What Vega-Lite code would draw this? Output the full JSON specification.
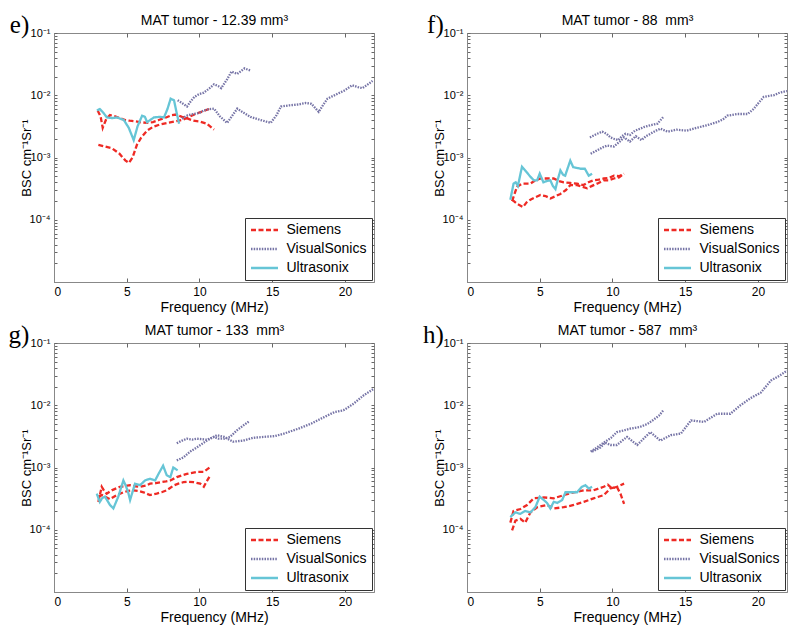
{
  "$schema": "https://vega.github.io/schema/vega-lite/v6.json",
  "padding": {"left": 7, "top": 12, "right": 5, "bottom": 5},
  "background": "white",
  "config": {
    "font": "Liberation Sans",
    "view": {"stroke": "#888888", "strokeWidth": 1},
    "axis": {
      "grid": false, "domainColor": "#888888", "tickColor": "#666666", "tickSize": -4,
      "labelColor": "#000000", "titleColor": "#000000", "titleFontWeight": "normal"
    },
    "legend": {
      "orient": "bottom-right", "offset": 2, "strokeColor": "#333333", "fillColor": "#ffffff",
      "padding": 5, "labelFontSize": 14, "labelColor": "#000000", "symbolType": "M-3,0H3", "symbolSize": 81,
      "symbolStrokeWidth": 2.5, "symbolOffset": 7.5, "labelOffset": 15, "rowPadding": 5, "title": null, "cornerRadius": 0
    },
    "line": {"strokeWidth": 2.3, "clip": true}
  },
  "datasets": {
    "bsc": [
      {"panel":"e","device":"Siemens","run":"S1","freq":3.0,"bsc":0.0057},
      {"panel":"e","device":"Siemens","run":"S1","freq":3.2,"bsc":0.0046},
      {"panel":"e","device":"Siemens","run":"S1","freq":3.35,"bsc":0.0030},
      {"panel":"e","device":"Siemens","run":"S1","freq":3.6,"bsc":0.0042},
      {"panel":"e","device":"Siemens","run":"S1","freq":3.85,"bsc":0.0048},
      {"panel":"e","device":"Siemens","run":"S1","freq":4.2,"bsc":0.0046},
      {"panel":"e","device":"Siemens","run":"S1","freq":4.5,"bsc":0.0043},
      {"panel":"e","device":"Siemens","run":"S1","freq":4.9,"bsc":0.0040},
      {"panel":"e","device":"Siemens","run":"S1","freq":5.2,"bsc":0.0039},
      {"panel":"e","device":"Siemens","run":"S1","freq":5.6,"bsc":0.0038},
      {"panel":"e","device":"Siemens","run":"S1","freq":5.9,"bsc":0.0037},
      {"panel":"e","device":"Siemens","run":"S1","freq":6.4,"bsc":0.0036},
      {"panel":"e","device":"Siemens","run":"S1","freq":6.8,"bsc":0.0037},
      {"panel":"e","device":"Siemens","run":"S1","freq":7.2,"bsc":0.0040},
      {"panel":"e","device":"Siemens","run":"S1","freq":7.7,"bsc":0.0044},
      {"panel":"e","device":"Siemens","run":"S1","freq":8.1,"bsc":0.0048},
      {"panel":"e","device":"Siemens","run":"S1","freq":8.4,"bsc":0.0049},
      {"panel":"e","device":"Siemens","run":"S1","freq":8.8,"bsc":0.0045},
      {"panel":"e","device":"Siemens","run":"S1","freq":9.2,"bsc":0.0042},
      {"panel":"e","device":"Siemens","run":"S1","freq":9.6,"bsc":0.0039},
      {"panel":"e","device":"Siemens","run":"S1","freq":10.0,"bsc":0.0038},
      {"panel":"e","device":"Siemens","run":"S1","freq":10.5,"bsc":0.0035},
      {"panel":"e","device":"Siemens","run":"S1","freq":11.0,"bsc":0.0028},
      {"panel":"e","device":"Siemens","run":"S2","freq":3.05,"bsc":0.0016},
      {"panel":"e","device":"Siemens","run":"S2","freq":3.5,"bsc":0.0015},
      {"panel":"e","device":"Siemens","run":"S2","freq":4.0,"bsc":0.0014},
      {"panel":"e","device":"Siemens","run":"S2","freq":4.5,"bsc":0.00115},
      {"panel":"e","device":"Siemens","run":"S2","freq":4.9,"bsc":0.0009},
      {"panel":"e","device":"Siemens","run":"S2","freq":5.15,"bsc":0.00082},
      {"panel":"e","device":"Siemens","run":"S2","freq":5.4,"bsc":0.0010},
      {"panel":"e","device":"Siemens","run":"S2","freq":5.7,"bsc":0.0016},
      {"panel":"e","device":"Siemens","run":"S2","freq":6.0,"bsc":0.0021},
      {"panel":"e","device":"Siemens","run":"S2","freq":6.4,"bsc":0.0027},
      {"panel":"e","device":"Siemens","run":"S2","freq":6.8,"bsc":0.0031},
      {"panel":"e","device":"Siemens","run":"S2","freq":7.3,"bsc":0.0034},
      {"panel":"e","device":"Siemens","run":"S2","freq":7.8,"bsc":0.0036},
      {"panel":"e","device":"Siemens","run":"S2","freq":8.3,"bsc":0.0038},
      {"panel":"e","device":"Siemens","run":"S2","freq":8.8,"bsc":0.0040},
      {"panel":"e","device":"Siemens","run":"S2","freq":9.3,"bsc":0.0045},
      {"panel":"e","device":"Siemens","run":"S2","freq":9.8,"bsc":0.0051},
      {"panel":"e","device":"Siemens","run":"S2","freq":10.3,"bsc":0.0056},
      {"panel":"e","device":"Siemens","run":"S2","freq":10.8,"bsc":0.0062},
      {"panel":"e","device":"Ultrasonix","run":"U1","freq":2.95,"bsc":0.0057},
      {"panel":"e","device":"Ultrasonix","run":"U1","freq":3.15,"bsc":0.0060},
      {"panel":"e","device":"Ultrasonix","run":"U1","freq":3.4,"bsc":0.0052},
      {"panel":"e","device":"Ultrasonix","run":"U1","freq":3.64,"bsc":0.0044},
      {"panel":"e","device":"Ultrasonix","run":"U1","freq":4.0,"bsc":0.0043},
      {"panel":"e","device":"Ultrasonix","run":"U1","freq":4.33,"bsc":0.0044},
      {"panel":"e","device":"Ultrasonix","run":"U1","freq":4.8,"bsc":0.0040},
      {"panel":"e","device":"Ultrasonix","run":"U1","freq":5.14,"bsc":0.0030},
      {"panel":"e","device":"Ultrasonix","run":"U1","freq":5.48,"bsc":0.0019},
      {"panel":"e","device":"Ultrasonix","run":"U1","freq":5.75,"bsc":0.0032},
      {"panel":"e","device":"Ultrasonix","run":"U1","freq":6.06,"bsc":0.0047},
      {"panel":"e","device":"Ultrasonix","run":"U1","freq":6.25,"bsc":0.0045},
      {"panel":"e","device":"Ultrasonix","run":"U1","freq":6.4,"bsc":0.0037},
      {"panel":"e","device":"Ultrasonix","run":"U1","freq":6.87,"bsc":0.0044},
      {"panel":"e","device":"Ultrasonix","run":"U1","freq":7.3,"bsc":0.0045},
      {"panel":"e","device":"Ultrasonix","run":"U1","freq":7.56,"bsc":0.0044},
      {"panel":"e","device":"Ultrasonix","run":"U1","freq":7.8,"bsc":0.0060},
      {"panel":"e","device":"Ultrasonix","run":"U1","freq":8.02,"bsc":0.0088},
      {"panel":"e","device":"Ultrasonix","run":"U1","freq":8.25,"bsc":0.0083},
      {"panel":"e","device":"Ultrasonix","run":"U1","freq":8.45,"bsc":0.0050},
      {"panel":"e","device":"Ultrasonix","run":"U1","freq":8.6,"bsc":0.0035},
      {"panel":"e","device":"VisualSonics","run":"V1","freq":8.5,"bsc":0.0083},
      {"panel":"e","device":"VisualSonics","run":"V1","freq":8.8,"bsc":0.0075},
      {"panel":"e","device":"VisualSonics","run":"V1","freq":9.15,"bsc":0.0066},
      {"panel":"e","device":"VisualSonics","run":"V1","freq":9.4,"bsc":0.0080},
      {"panel":"e","device":"VisualSonics","run":"V1","freq":9.65,"bsc":0.0094},
      {"panel":"e","device":"VisualSonics","run":"V1","freq":10.0,"bsc":0.0105},
      {"panel":"e","device":"VisualSonics","run":"V1","freq":10.3,"bsc":0.011},
      {"panel":"e","device":"VisualSonics","run":"V1","freq":10.7,"bsc":0.013},
      {"panel":"e","device":"VisualSonics","run":"V1","freq":11.0,"bsc":0.015},
      {"panel":"e","device":"VisualSonics","run":"V1","freq":11.3,"bsc":0.014},
      {"panel":"e","device":"VisualSonics","run":"V1","freq":11.5,"bsc":0.013},
      {"panel":"e","device":"VisualSonics","run":"V1","freq":11.9,"bsc":0.018},
      {"panel":"e","device":"VisualSonics","run":"V1","freq":12.2,"bsc":0.024},
      {"panel":"e","device":"VisualSonics","run":"V1","freq":12.6,"bsc":0.022},
      {"panel":"e","device":"VisualSonics","run":"V1","freq":13.1,"bsc":0.027},
      {"panel":"e","device":"VisualSonics","run":"V1","freq":13.5,"bsc":0.025},
      {"panel":"e","device":"VisualSonics","run":"V2","freq":8.8,"bsc":0.0042},
      {"panel":"e","device":"VisualSonics","run":"V2","freq":9.2,"bsc":0.0048},
      {"panel":"e","device":"VisualSonics","run":"V2","freq":9.6,"bsc":0.0050},
      {"panel":"e","device":"VisualSonics","run":"V2","freq":10.0,"bsc":0.0052},
      {"panel":"e","device":"VisualSonics","run":"V2","freq":10.3,"bsc":0.0057},
      {"panel":"e","device":"VisualSonics","run":"V2","freq":10.7,"bsc":0.0060},
      {"panel":"e","device":"VisualSonics","run":"V2","freq":11.0,"bsc":0.0061},
      {"panel":"e","device":"VisualSonics","run":"V2","freq":11.4,"bsc":0.0046},
      {"panel":"e","device":"VisualSonics","run":"V2","freq":11.9,"bsc":0.0036},
      {"panel":"e","device":"VisualSonics","run":"V2","freq":12.2,"bsc":0.0045},
      {"panel":"e","device":"VisualSonics","run":"V2","freq":12.6,"bsc":0.0061},
      {"panel":"e","device":"VisualSonics","run":"V2","freq":13.0,"bsc":0.0053},
      {"panel":"e","device":"VisualSonics","run":"V2","freq":13.5,"bsc":0.0045},
      {"panel":"e","device":"VisualSonics","run":"V2","freq":14.2,"bsc":0.0040},
      {"panel":"e","device":"VisualSonics","run":"V2","freq":14.9,"bsc":0.0036},
      {"panel":"e","device":"VisualSonics","run":"V2","freq":15.3,"bsc":0.0048},
      {"panel":"e","device":"VisualSonics","run":"V2","freq":15.6,"bsc":0.0066},
      {"panel":"e","device":"VisualSonics","run":"V2","freq":16.2,"bsc":0.0069},
      {"panel":"e","device":"VisualSonics","run":"V2","freq":16.8,"bsc":0.0071},
      {"panel":"e","device":"VisualSonics","run":"V2","freq":17.3,"bsc":0.0075},
      {"panel":"e","device":"VisualSonics","run":"V2","freq":17.7,"bsc":0.0073},
      {"panel":"e","device":"VisualSonics","run":"V2","freq":18.2,"bsc":0.0054},
      {"panel":"e","device":"VisualSonics","run":"V2","freq":18.5,"bsc":0.0070},
      {"panel":"e","device":"VisualSonics","run":"V2","freq":18.8,"bsc":0.0088},
      {"panel":"e","device":"VisualSonics","run":"V2","freq":19.5,"bsc":0.0106},
      {"panel":"e","device":"VisualSonics","run":"V2","freq":20.0,"bsc":0.012},
      {"panel":"e","device":"VisualSonics","run":"V2","freq":20.5,"bsc":0.0145},
      {"panel":"e","device":"VisualSonics","run":"V2","freq":20.9,"bsc":0.0135},
      {"panel":"e","device":"VisualSonics","run":"V2","freq":21.2,"bsc":0.013},
      {"panel":"e","device":"VisualSonics","run":"V2","freq":21.5,"bsc":0.0145},
      {"panel":"e","device":"VisualSonics","run":"V2","freq":21.9,"bsc":0.017},

      {"panel":"f","device":"Siemens","run":"S1","freq":3.1,"bsc":0.00020},
      {"panel":"f","device":"Siemens","run":"S1","freq":3.44,"bsc":0.00034},
      {"panel":"f","device":"Siemens","run":"S1","freq":3.78,"bsc":0.00038},
      {"panel":"f","device":"Siemens","run":"S1","freq":4.36,"bsc":0.00038},
      {"panel":"f","device":"Siemens","run":"S1","freq":4.7,"bsc":0.00043},
      {"panel":"f","device":"Siemens","run":"S1","freq":5.05,"bsc":0.00046},
      {"panel":"f","device":"Siemens","run":"S1","freq":5.5,"bsc":0.00046},
      {"panel":"f","device":"Siemens","run":"S1","freq":5.96,"bsc":0.00046},
      {"panel":"f","device":"Siemens","run":"S1","freq":6.3,"bsc":0.00042},
      {"panel":"f","device":"Siemens","run":"S1","freq":6.65,"bsc":0.00040},
      {"panel":"f","device":"Siemens","run":"S1","freq":7.1,"bsc":0.00039},
      {"panel":"f","device":"Siemens","run":"S1","freq":7.57,"bsc":0.00038},
      {"panel":"f","device":"Siemens","run":"S1","freq":8.0,"bsc":0.00036},
      {"panel":"f","device":"Siemens","run":"S1","freq":8.35,"bsc":0.00040},
      {"panel":"f","device":"Siemens","run":"S1","freq":8.7,"bsc":0.00043},
      {"panel":"f","device":"Siemens","run":"S1","freq":9.05,"bsc":0.00044},
      {"panel":"f","device":"Siemens","run":"S1","freq":9.4,"bsc":0.00046},
      {"panel":"f","device":"Siemens","run":"S1","freq":9.75,"bsc":0.00047},
      {"panel":"f","device":"Siemens","run":"S1","freq":10.1,"bsc":0.00051},
      {"panel":"f","device":"Siemens","run":"S1","freq":10.45,"bsc":0.00050},
      {"panel":"f","device":"Siemens","run":"S1","freq":10.8,"bsc":0.00055},
      {"panel":"f","device":"Siemens","run":"S2","freq":3.1,"bsc":0.00021},
      {"panel":"f","device":"Siemens","run":"S2","freq":3.44,"bsc":0.00018},
      {"panel":"f","device":"Siemens","run":"S2","freq":3.85,"bsc":0.00016},
      {"panel":"f","device":"Siemens","run":"S2","freq":4.1,"bsc":0.00019},
      {"panel":"f","device":"Siemens","run":"S2","freq":4.36,"bsc":0.00021},
      {"panel":"f","device":"Siemens","run":"S2","freq":4.7,"bsc":0.00023},
      {"panel":"f","device":"Siemens","run":"S2","freq":5.05,"bsc":0.00025},
      {"panel":"f","device":"Siemens","run":"S2","freq":5.4,"bsc":0.00024},
      {"panel":"f","device":"Siemens","run":"S2","freq":5.73,"bsc":0.00022},
      {"panel":"f","device":"Siemens","run":"S2","freq":6.1,"bsc":0.00024},
      {"panel":"f","device":"Siemens","run":"S2","freq":6.42,"bsc":0.00026},
      {"panel":"f","device":"Siemens","run":"S2","freq":6.8,"bsc":0.00030},
      {"panel":"f","device":"Siemens","run":"S2","freq":7.1,"bsc":0.00036},
      {"panel":"f","device":"Siemens","run":"S2","freq":7.57,"bsc":0.00036},
      {"panel":"f","device":"Siemens","run":"S2","freq":7.9,"bsc":0.00034},
      {"panel":"f","device":"Siemens","run":"S2","freq":8.26,"bsc":0.00032},
      {"panel":"f","device":"Siemens","run":"S2","freq":8.6,"bsc":0.00035},
      {"panel":"f","device":"Siemens","run":"S2","freq":8.94,"bsc":0.00038},
      {"panel":"f","device":"Siemens","run":"S2","freq":9.4,"bsc":0.00043},
      {"panel":"f","device":"Siemens","run":"S2","freq":9.75,"bsc":0.00043},
      {"panel":"f","device":"Siemens","run":"S2","freq":10.1,"bsc":0.00046},
      {"panel":"f","device":"Siemens","run":"S2","freq":10.45,"bsc":0.00048},
      {"panel":"f","device":"Siemens","run":"S2","freq":10.8,"bsc":0.00055},
      {"panel":"f","device":"Ultrasonix","run":"U1","freq":2.98,"bsc":0.00021},
      {"panel":"f","device":"Ultrasonix","run":"U1","freq":3.2,"bsc":0.00038},
      {"panel":"f","device":"Ultrasonix","run":"U1","freq":3.35,"bsc":0.00040},
      {"panel":"f","device":"Ultrasonix","run":"U1","freq":3.5,"bsc":0.00035},
      {"panel":"f","device":"Ultrasonix","run":"U1","freq":3.78,"bsc":0.00071},
      {"panel":"f","device":"Ultrasonix","run":"U1","freq":4.0,"bsc":0.00062},
      {"panel":"f","device":"Ultrasonix","run":"U1","freq":4.36,"bsc":0.00049},
      {"panel":"f","device":"Ultrasonix","run":"U1","freq":4.6,"bsc":0.00043},
      {"panel":"f","device":"Ultrasonix","run":"U1","freq":4.82,"bsc":0.00043},
      {"panel":"f","device":"Ultrasonix","run":"U1","freq":5.0,"bsc":0.00055},
      {"panel":"f","device":"Ultrasonix","run":"U1","freq":5.25,"bsc":0.00040},
      {"panel":"f","device":"Ultrasonix","run":"U1","freq":5.5,"bsc":0.00042},
      {"panel":"f","device":"Ultrasonix","run":"U1","freq":5.73,"bsc":0.00043},
      {"panel":"f","device":"Ultrasonix","run":"U1","freq":5.9,"bsc":0.00035},
      {"panel":"f","device":"Ultrasonix","run":"U1","freq":6.08,"bsc":0.00031},
      {"panel":"f","device":"Ultrasonix","run":"U1","freq":6.25,"bsc":0.00045},
      {"panel":"f","device":"Ultrasonix","run":"U1","freq":6.42,"bsc":0.00062},
      {"panel":"f","device":"Ultrasonix","run":"U1","freq":6.6,"bsc":0.00053},
      {"panel":"f","device":"Ultrasonix","run":"U1","freq":6.75,"bsc":0.00051},
      {"panel":"f","device":"Ultrasonix","run":"U1","freq":6.9,"bsc":0.00065},
      {"panel":"f","device":"Ultrasonix","run":"U1","freq":7.1,"bsc":0.00089},
      {"panel":"f","device":"Ultrasonix","run":"U1","freq":7.3,"bsc":0.00070},
      {"panel":"f","device":"Ultrasonix","run":"U1","freq":7.55,"bsc":0.00068},
      {"panel":"f","device":"Ultrasonix","run":"U1","freq":7.8,"bsc":0.00066},
      {"panel":"f","device":"Ultrasonix","run":"U1","freq":8.1,"bsc":0.00066},
      {"panel":"f","device":"Ultrasonix","run":"U1","freq":8.37,"bsc":0.00051},
      {"panel":"f","device":"Ultrasonix","run":"U1","freq":8.6,"bsc":0.00055},
      {"panel":"f","device":"VisualSonics","run":"V1","freq":8.45,"bsc":0.0021},
      {"panel":"f","device":"VisualSonics","run":"V1","freq":8.94,"bsc":0.0024},
      {"panel":"f","device":"VisualSonics","run":"V1","freq":9.3,"bsc":0.0026},
      {"panel":"f","device":"VisualSonics","run":"V1","freq":9.6,"bsc":0.0024},
      {"panel":"f","device":"VisualSonics","run":"V1","freq":9.86,"bsc":0.0021},
      {"panel":"f","device":"VisualSonics","run":"V1","freq":10.1,"bsc":0.0020},
      {"panel":"f","device":"VisualSonics","run":"V1","freq":10.4,"bsc":0.0019},
      {"panel":"f","device":"VisualSonics","run":"V1","freq":10.65,"bsc":0.0022},
      {"panel":"f","device":"VisualSonics","run":"V1","freq":10.9,"bsc":0.0024},
      {"panel":"f","device":"VisualSonics","run":"V1","freq":11.2,"bsc":0.0023},
      {"panel":"f","device":"VisualSonics","run":"V1","freq":11.55,"bsc":0.0027},
      {"panel":"f","device":"VisualSonics","run":"V1","freq":11.9,"bsc":0.0029},
      {"panel":"f","device":"VisualSonics","run":"V1","freq":12.2,"bsc":0.0031},
      {"panel":"f","device":"VisualSonics","run":"V1","freq":12.6,"bsc":0.0033},
      {"panel":"f","device":"VisualSonics","run":"V1","freq":13.1,"bsc":0.0035},
      {"panel":"f","device":"VisualSonics","run":"V1","freq":13.5,"bsc":0.0045},
      {"panel":"f","device":"VisualSonics","run":"V2","freq":8.5,"bsc":0.00115},
      {"panel":"f","device":"VisualSonics","run":"V2","freq":8.94,"bsc":0.0013},
      {"panel":"f","device":"VisualSonics","run":"V2","freq":9.3,"bsc":0.00145},
      {"panel":"f","device":"VisualSonics","run":"V2","freq":9.63,"bsc":0.00155},
      {"panel":"f","device":"VisualSonics","run":"V2","freq":10.1,"bsc":0.0015},
      {"panel":"f","device":"VisualSonics","run":"V2","freq":10.5,"bsc":0.0018},
      {"panel":"f","device":"VisualSonics","run":"V2","freq":10.8,"bsc":0.0021},
      {"panel":"f","device":"VisualSonics","run":"V2","freq":11.2,"bsc":0.0018},
      {"panel":"f","device":"VisualSonics","run":"V2","freq":11.6,"bsc":0.0022},
      {"panel":"f","device":"VisualSonics","run":"V2","freq":12.0,"bsc":0.0019},
      {"panel":"f","device":"VisualSonics","run":"V2","freq":12.3,"bsc":0.0022},
      {"panel":"f","device":"VisualSonics","run":"V2","freq":12.6,"bsc":0.0024},
      {"panel":"f","device":"VisualSonics","run":"V2","freq":13.0,"bsc":0.0027},
      {"panel":"f","device":"VisualSonics","run":"V2","freq":13.3,"bsc":0.0029},
      {"panel":"f","device":"VisualSonics","run":"V2","freq":13.8,"bsc":0.0026},
      {"panel":"f","device":"VisualSonics","run":"V2","freq":14.4,"bsc":0.0028},
      {"panel":"f","device":"VisualSonics","run":"V2","freq":15.1,"bsc":0.0027},
      {"panel":"f","device":"VisualSonics","run":"V2","freq":15.8,"bsc":0.0030},
      {"panel":"f","device":"VisualSonics","run":"V2","freq":16.5,"bsc":0.0033},
      {"panel":"f","device":"VisualSonics","run":"V2","freq":17.2,"bsc":0.0037},
      {"panel":"f","device":"VisualSonics","run":"V2","freq":17.6,"bsc":0.0041},
      {"panel":"f","device":"VisualSonics","run":"V2","freq":17.9,"bsc":0.0047},
      {"panel":"f","device":"VisualSonics","run":"V2","freq":18.6,"bsc":0.0050},
      {"panel":"f","device":"VisualSonics","run":"V2","freq":19.3,"bsc":0.0050},
      {"panel":"f","device":"VisualSonics","run":"V2","freq":19.7,"bsc":0.0060},
      {"panel":"f","device":"VisualSonics","run":"V2","freq":20.0,"bsc":0.0073},
      {"panel":"f","device":"VisualSonics","run":"V2","freq":20.4,"bsc":0.0094},
      {"panel":"f","device":"VisualSonics","run":"V2","freq":20.8,"bsc":0.0098},
      {"panel":"f","device":"VisualSonics","run":"V2","freq":21.1,"bsc":0.0100},
      {"panel":"f","device":"VisualSonics","run":"V2","freq":21.5,"bsc":0.0110},
      {"panel":"f","device":"VisualSonics","run":"V2","freq":22.0,"bsc":0.0117},

      {"panel":"g","device":"Siemens","run":"S1","freq":3.05,"bsc":0.00028},
      {"panel":"g","device":"Siemens","run":"S1","freq":3.28,"bsc":0.00049},
      {"panel":"g","device":"Siemens","run":"S1","freq":3.45,"bsc":0.00042},
      {"panel":"g","device":"Siemens","run":"S1","freq":3.62,"bsc":0.00038},
      {"panel":"g","device":"Siemens","run":"S1","freq":3.97,"bsc":0.00043},
      {"panel":"g","device":"Siemens","run":"S1","freq":4.54,"bsc":0.00049},
      {"panel":"g","device":"Siemens","run":"S1","freq":5.23,"bsc":0.00052},
      {"panel":"g","device":"Siemens","run":"S1","freq":5.6,"bsc":0.00050},
      {"panel":"g","device":"Siemens","run":"S1","freq":5.92,"bsc":0.00049},
      {"panel":"g","device":"Siemens","run":"S1","freq":6.3,"bsc":0.00051},
      {"panel":"g","device":"Siemens","run":"S1","freq":6.6,"bsc":0.00055},
      {"panel":"g","device":"Siemens","run":"S1","freq":7.0,"bsc":0.00056},
      {"panel":"g","device":"Siemens","run":"S1","freq":7.3,"bsc":0.00058},
      {"panel":"g","device":"Siemens","run":"S1","freq":7.7,"bsc":0.00060},
      {"panel":"g","device":"Siemens","run":"S1","freq":8.0,"bsc":0.00062},
      {"panel":"g","device":"Siemens","run":"S1","freq":8.44,"bsc":0.00070},
      {"panel":"g","device":"Siemens","run":"S1","freq":8.8,"bsc":0.00075},
      {"panel":"g","device":"Siemens","run":"S1","freq":9.13,"bsc":0.00079},
      {"panel":"g","device":"Siemens","run":"S1","freq":9.5,"bsc":0.00082},
      {"panel":"g","device":"Siemens","run":"S1","freq":9.82,"bsc":0.00085},
      {"panel":"g","device":"Siemens","run":"S1","freq":10.3,"bsc":0.00085},
      {"panel":"g","device":"Siemens","run":"S1","freq":10.7,"bsc":0.0010},
      {"panel":"g","device":"Siemens","run":"S2","freq":3.05,"bsc":0.00034},
      {"panel":"g","device":"Siemens","run":"S2","freq":3.3,"bsc":0.00036},
      {"panel":"g","device":"Siemens","run":"S2","freq":3.5,"bsc":0.00034},
      {"panel":"g","device":"Siemens","run":"S2","freq":3.85,"bsc":0.00031},
      {"panel":"g","device":"Siemens","run":"S2","freq":4.31,"bsc":0.00036},
      {"panel":"g","device":"Siemens","run":"S2","freq":4.77,"bsc":0.00040},
      {"panel":"g","device":"Siemens","run":"S2","freq":5.1,"bsc":0.00042},
      {"panel":"g","device":"Siemens","run":"S2","freq":5.46,"bsc":0.00043},
      {"panel":"g","device":"Siemens","run":"S2","freq":5.8,"bsc":0.00042},
      {"panel":"g","device":"Siemens","run":"S2","freq":6.15,"bsc":0.00040},
      {"panel":"g","device":"Siemens","run":"S2","freq":6.6,"bsc":0.00036},
      {"panel":"g","device":"Siemens","run":"S2","freq":7.06,"bsc":0.00038},
      {"panel":"g","device":"Siemens","run":"S2","freq":7.4,"bsc":0.00040},
      {"panel":"g","device":"Siemens","run":"S2","freq":7.75,"bsc":0.00043},
      {"panel":"g","device":"Siemens","run":"S2","freq":8.2,"bsc":0.00051},
      {"panel":"g","device":"Siemens","run":"S2","freq":8.55,"bsc":0.00055},
      {"panel":"g","device":"Siemens","run":"S2","freq":8.9,"bsc":0.00058},
      {"panel":"g","device":"Siemens","run":"S2","freq":9.25,"bsc":0.00059},
      {"panel":"g","device":"Siemens","run":"S2","freq":9.6,"bsc":0.00058},
      {"panel":"g","device":"Siemens","run":"S2","freq":10.05,"bsc":0.00055},
      {"panel":"g","device":"Siemens","run":"S2","freq":10.3,"bsc":0.00049},
      {"panel":"g","device":"Siemens","run":"S2","freq":10.5,"bsc":0.00060},
      {"panel":"g","device":"Siemens","run":"S2","freq":10.7,"bsc":0.00072},
      {"panel":"g","device":"Ultrasonix","run":"U1","freq":2.94,"bsc":0.00038},
      {"panel":"g","device":"Ultrasonix","run":"U1","freq":3.15,"bsc":0.00028},
      {"panel":"g","device":"Ultrasonix","run":"U1","freq":3.3,"bsc":0.00032},
      {"panel":"g","device":"Ultrasonix","run":"U1","freq":3.5,"bsc":0.00034},
      {"panel":"g","device":"Ultrasonix","run":"U1","freq":3.85,"bsc":0.00025},
      {"panel":"g","device":"Ultrasonix","run":"U1","freq":4.08,"bsc":0.00022},
      {"panel":"g","device":"Ultrasonix","run":"U1","freq":4.42,"bsc":0.00034},
      {"panel":"g","device":"Ultrasonix","run":"U1","freq":4.77,"bsc":0.00062},
      {"panel":"g","device":"Ultrasonix","run":"U1","freq":4.95,"bsc":0.00050},
      {"panel":"g","device":"Ultrasonix","run":"U1","freq":5.1,"bsc":0.00040},
      {"panel":"g","device":"Ultrasonix","run":"U1","freq":5.23,"bsc":0.00030},
      {"panel":"g","device":"Ultrasonix","run":"U1","freq":5.57,"bsc":0.00055},
      {"panel":"g","device":"Ultrasonix","run":"U1","freq":5.92,"bsc":0.00052},
      {"panel":"g","device":"Ultrasonix","run":"U1","freq":6.26,"bsc":0.00062},
      {"panel":"g","device":"Ultrasonix","run":"U1","freq":6.6,"bsc":0.00066},
      {"panel":"g","device":"Ultrasonix","run":"U1","freq":6.95,"bsc":0.00062},
      {"panel":"g","device":"Ultrasonix","run":"U1","freq":7.2,"bsc":0.00080},
      {"panel":"g","device":"Ultrasonix","run":"U1","freq":7.5,"bsc":0.00107},
      {"panel":"g","device":"Ultrasonix","run":"U1","freq":7.75,"bsc":0.00075},
      {"panel":"g","device":"Ultrasonix","run":"U1","freq":8.0,"bsc":0.00070},
      {"panel":"g","device":"Ultrasonix","run":"U1","freq":8.2,"bsc":0.0010},
      {"panel":"g","device":"Ultrasonix","run":"U1","freq":8.5,"bsc":0.00090},
      {"panel":"g","device":"VisualSonics","run":"V1","freq":8.44,"bsc":0.00245},
      {"panel":"g","device":"VisualSonics","run":"V1","freq":8.8,"bsc":0.0027},
      {"panel":"g","device":"VisualSonics","run":"V1","freq":9.13,"bsc":0.0029},
      {"panel":"g","device":"VisualSonics","run":"V1","freq":9.5,"bsc":0.0028},
      {"panel":"g","device":"VisualSonics","run":"V1","freq":9.82,"bsc":0.0029},
      {"panel":"g","device":"VisualSonics","run":"V1","freq":10.5,"bsc":0.0028},
      {"panel":"g","device":"VisualSonics","run":"V1","freq":11.0,"bsc":0.0031},
      {"panel":"g","device":"VisualSonics","run":"V1","freq":11.3,"bsc":0.0029},
      {"panel":"g","device":"VisualSonics","run":"V1","freq":11.7,"bsc":0.0029},
      {"panel":"g","device":"VisualSonics","run":"V1","freq":12.1,"bsc":0.0031},
      {"panel":"g","device":"VisualSonics","run":"V1","freq":12.6,"bsc":0.0040},
      {"panel":"g","device":"VisualSonics","run":"V1","freq":13.0,"bsc":0.0047},
      {"panel":"g","device":"VisualSonics","run":"V1","freq":13.4,"bsc":0.0055},
      {"panel":"g","device":"VisualSonics","run":"V2","freq":8.44,"bsc":0.0013},
      {"panel":"g","device":"VisualSonics","run":"V2","freq":8.9,"bsc":0.00145},
      {"panel":"g","device":"VisualSonics","run":"V2","freq":9.36,"bsc":0.0018},
      {"panel":"g","device":"VisualSonics","run":"V2","freq":9.82,"bsc":0.0021},
      {"panel":"g","device":"VisualSonics","run":"V2","freq":10.5,"bsc":0.0027},
      {"panel":"g","device":"VisualSonics","run":"V2","freq":11.2,"bsc":0.0033},
      {"panel":"g","device":"VisualSonics","run":"V2","freq":11.7,"bsc":0.0031},
      {"panel":"g","device":"VisualSonics","run":"V2","freq":12.3,"bsc":0.0026},
      {"panel":"g","device":"VisualSonics","run":"V2","freq":13.0,"bsc":0.0027},
      {"panel":"g","device":"VisualSonics","run":"V2","freq":13.7,"bsc":0.0030},
      {"panel":"g","device":"VisualSonics","run":"V2","freq":14.4,"bsc":0.0031},
      {"panel":"g","device":"VisualSonics","run":"V2","freq":15.2,"bsc":0.0032},
      {"panel":"g","device":"VisualSonics","run":"V2","freq":15.8,"bsc":0.0035},
      {"panel":"g","device":"VisualSonics","run":"V2","freq":16.8,"bsc":0.0042},
      {"panel":"g","device":"VisualSonics","run":"V2","freq":17.7,"bsc":0.0051},
      {"panel":"g","device":"VisualSonics","run":"V2","freq":18.6,"bsc":0.0065},
      {"panel":"g","device":"VisualSonics","run":"V2","freq":19.3,"bsc":0.0078},
      {"panel":"g","device":"VisualSonics","run":"V2","freq":19.9,"bsc":0.0083},
      {"panel":"g","device":"VisualSonics","run":"V2","freq":20.6,"bsc":0.0106},
      {"panel":"g","device":"VisualSonics","run":"V2","freq":21.3,"bsc":0.0145},
      {"panel":"g","device":"VisualSonics","run":"V2","freq":22.0,"bsc":0.0185},

      {"panel":"h","device":"Siemens","run":"S1","freq":2.98,"bsc":0.00013},
      {"panel":"h","device":"Siemens","run":"S1","freq":3.2,"bsc":0.00020},
      {"panel":"h","device":"Siemens","run":"S1","freq":3.67,"bsc":0.000215},
      {"panel":"h","device":"Siemens","run":"S1","freq":4.13,"bsc":0.00025},
      {"panel":"h","device":"Siemens","run":"S1","freq":4.59,"bsc":0.00032},
      {"panel":"h","device":"Siemens","run":"S1","freq":5.28,"bsc":0.00033},
      {"panel":"h","device":"Siemens","run":"S1","freq":5.96,"bsc":0.00032},
      {"panel":"h","device":"Siemens","run":"S1","freq":6.65,"bsc":0.00036},
      {"panel":"h","device":"Siemens","run":"S1","freq":7.34,"bsc":0.00040},
      {"panel":"h","device":"Siemens","run":"S1","freq":8.03,"bsc":0.00043},
      {"panel":"h","device":"Siemens","run":"S1","freq":8.7,"bsc":0.00043},
      {"panel":"h","device":"Siemens","run":"S1","freq":9.4,"bsc":0.00049},
      {"panel":"h","device":"Siemens","run":"S1","freq":9.68,"bsc":0.00053},
      {"panel":"h","device":"Siemens","run":"S1","freq":9.98,"bsc":0.00046},
      {"panel":"h","device":"Siemens","run":"S1","freq":10.3,"bsc":0.00049},
      {"panel":"h","device":"Siemens","run":"S1","freq":10.8,"bsc":0.00055},
      {"panel":"h","device":"Siemens","run":"S2","freq":3.1,"bsc":0.000098},
      {"panel":"h","device":"Siemens","run":"S2","freq":3.33,"bsc":0.00014},
      {"panel":"h","device":"Siemens","run":"S2","freq":3.67,"bsc":0.00015},
      {"panel":"h","device":"Siemens","run":"S2","freq":4.0,"bsc":0.00013},
      {"panel":"h","device":"Siemens","run":"S2","freq":4.36,"bsc":0.00019},
      {"panel":"h","device":"Siemens","run":"S2","freq":4.82,"bsc":0.00023},
      {"panel":"h","device":"Siemens","run":"S2","freq":5.5,"bsc":0.00025},
      {"panel":"h","device":"Siemens","run":"S2","freq":5.96,"bsc":0.00022},
      {"panel":"h","device":"Siemens","run":"S2","freq":6.65,"bsc":0.00023},
      {"panel":"h","device":"Siemens","run":"S2","freq":7.34,"bsc":0.00025},
      {"panel":"h","device":"Siemens","run":"S2","freq":8.03,"bsc":0.00028},
      {"panel":"h","device":"Siemens","run":"S2","freq":8.7,"bsc":0.00032},
      {"panel":"h","device":"Siemens","run":"S2","freq":9.4,"bsc":0.00036},
      {"panel":"h","device":"Siemens","run":"S2","freq":9.86,"bsc":0.00046},
      {"panel":"h","device":"Siemens","run":"S2","freq":10.3,"bsc":0.00049},
      {"panel":"h","device":"Siemens","run":"S2","freq":10.55,"bsc":0.00038},
      {"panel":"h","device":"Siemens","run":"S2","freq":10.8,"bsc":0.00026},
      {"panel":"h","device":"Ultrasonix","run":"U1","freq":2.98,"bsc":0.00016},
      {"panel":"h","device":"Ultrasonix","run":"U1","freq":3.33,"bsc":0.00019},
      {"panel":"h","device":"Ultrasonix","run":"U1","freq":3.67,"bsc":0.00018},
      {"panel":"h","device":"Ultrasonix","run":"U1","freq":4.0,"bsc":0.00020},
      {"panel":"h","device":"Ultrasonix","run":"U1","freq":4.36,"bsc":0.00019},
      {"panel":"h","device":"Ultrasonix","run":"U1","freq":4.7,"bsc":0.00023},
      {"panel":"h","device":"Ultrasonix","run":"U1","freq":5.0,"bsc":0.00034},
      {"panel":"h","device":"Ultrasonix","run":"U1","freq":5.28,"bsc":0.00030},
      {"panel":"h","device":"Ultrasonix","run":"U1","freq":5.5,"bsc":0.00027},
      {"panel":"h","device":"Ultrasonix","run":"U1","freq":5.73,"bsc":0.00022},
      {"panel":"h","device":"Ultrasonix","run":"U1","freq":5.96,"bsc":0.00028},
      {"panel":"h","device":"Ultrasonix","run":"U1","freq":6.2,"bsc":0.00027},
      {"panel":"h","device":"Ultrasonix","run":"U1","freq":6.54,"bsc":0.00030},
      {"panel":"h","device":"Ultrasonix","run":"U1","freq":6.77,"bsc":0.00040},
      {"panel":"h","device":"Ultrasonix","run":"U1","freq":7.1,"bsc":0.00040},
      {"panel":"h","device":"Ultrasonix","run":"U1","freq":7.57,"bsc":0.00040},
      {"panel":"h","device":"Ultrasonix","run":"U1","freq":7.9,"bsc":0.00049},
      {"panel":"h","device":"Ultrasonix","run":"U1","freq":8.14,"bsc":0.00052},
      {"panel":"h","device":"Ultrasonix","run":"U1","freq":8.37,"bsc":0.00046},
      {"panel":"h","device":"Ultrasonix","run":"U1","freq":8.6,"bsc":0.00049},
      {"panel":"h","device":"VisualSonics","run":"V1","freq":8.5,"bsc":0.0018},
      {"panel":"h","device":"VisualSonics","run":"V1","freq":8.94,"bsc":0.0021},
      {"panel":"h","device":"VisualSonics","run":"V1","freq":9.5,"bsc":0.0026},
      {"panel":"h","device":"VisualSonics","run":"V1","freq":9.9,"bsc":0.0030},
      {"panel":"h","device":"VisualSonics","run":"V1","freq":10.3,"bsc":0.0037},
      {"panel":"h","device":"VisualSonics","run":"V1","freq":10.7,"bsc":0.0039},
      {"panel":"h","device":"VisualSonics","run":"V1","freq":11.2,"bsc":0.0042},
      {"panel":"h","device":"VisualSonics","run":"V1","freq":11.9,"bsc":0.0045},
      {"panel":"h","device":"VisualSonics","run":"V1","freq":12.4,"bsc":0.0050},
      {"panel":"h","device":"VisualSonics","run":"V1","freq":12.8,"bsc":0.0058},
      {"panel":"h","device":"VisualSonics","run":"V1","freq":13.2,"bsc":0.0068},
      {"panel":"h","device":"VisualSonics","run":"V1","freq":13.5,"bsc":0.0083},
      {"panel":"h","device":"VisualSonics","run":"V2","freq":8.6,"bsc":0.0018},
      {"panel":"h","device":"VisualSonics","run":"V2","freq":9.17,"bsc":0.0021},
      {"panel":"h","device":"VisualSonics","run":"V2","freq":9.5,"bsc":0.0025},
      {"panel":"h","device":"VisualSonics","run":"V2","freq":9.86,"bsc":0.0023},
      {"panel":"h","device":"VisualSonics","run":"V2","freq":10.3,"bsc":0.0023},
      {"panel":"h","device":"VisualSonics","run":"V2","freq":11.0,"bsc":0.0031},
      {"panel":"h","device":"VisualSonics","run":"V2","freq":11.7,"bsc":0.0023},
      {"panel":"h","device":"VisualSonics","run":"V2","freq":12.2,"bsc":0.0030},
      {"panel":"h","device":"VisualSonics","run":"V2","freq":12.6,"bsc":0.0037},
      {"panel":"h","device":"VisualSonics","run":"V2","freq":13.3,"bsc":0.0027},
      {"panel":"h","device":"VisualSonics","run":"V2","freq":14.0,"bsc":0.0033},
      {"panel":"h","device":"VisualSonics","run":"V2","freq":14.7,"bsc":0.0035},
      {"panel":"h","device":"VisualSonics","run":"V2","freq":15.4,"bsc":0.0057},
      {"panel":"h","device":"VisualSonics","run":"V2","freq":16.3,"bsc":0.0054},
      {"panel":"h","device":"VisualSonics","run":"V2","freq":17.2,"bsc":0.0073},
      {"panel":"h","device":"VisualSonics","run":"V2","freq":18.1,"bsc":0.0073},
      {"panel":"h","device":"VisualSonics","run":"V2","freq":18.8,"bsc":0.0100},
      {"panel":"h","device":"VisualSonics","run":"V2","freq":19.5,"bsc":0.0130},
      {"panel":"h","device":"VisualSonics","run":"V2","freq":20.2,"bsc":0.0160},
      {"panel":"h","device":"VisualSonics","run":"V2","freq":20.9,"bsc":0.0250},
      {"panel":"h","device":"VisualSonics","run":"V2","freq":21.5,"bsc":0.0300},
      {"panel":"h","device":"VisualSonics","run":"V2","freq":22.0,"bsc":0.0360}
    ]
  },
  "columns": 2,
  "bounds": "flush",
  "spacing": {"row": 61, "column": 93},
  "resolve": {
    "scale": {"x": "independent", "y": "independent", "color": "independent", "strokeDash": "independent"},
    "legend": {"color": "independent", "strokeDash": "independent"}
  },
  "concat": [
    {
      "width": 320, "height": 249,
      "layer": [
        {
          "layer": [
            {
              "data": {"name": "bsc"},
              "transform": [{"filter": "datum.panel === 'e'"}],
              "mark": {"type": "line"},
              "encoding": {
                "x": {"field": "freq", "type": "quantitative", "title": "Frequency (MHz)", "scale": {"domain": [0, 22], "nice": false, "zero": false}, "axis": {"orient": "bottom", "values": [0, 5, 10, 15, 20], "labelFontSize": 12, "titleFontSize": 14, "labelPadding": 8, "titlePadding": 3}},
                "y": {"field": "bsc", "type": "quantitative", "title": "BSC cm⁻¹Sr⁻¹", "scale": {"type": "log", "domain": [0.00001, 0.1], "nice": false}, "axis": {"orient": "left", "values": [0.00002,0.00003,0.00004,0.00005,0.00006,0.00007,0.00008,0.00009,0.0001,0.0002,0.0003,0.0004,0.0005,0.0006,0.0007,0.0008,0.0009,0.001,0.002,0.003,0.004,0.005,0.006,0.007,0.008,0.009,0.01,0.02,0.03,0.04,0.05,0.06,0.07,0.08,0.09,0.1], "labelExpr": "datum.value == 0.1 ? '10⁻¹' : datum.value == 0.01 ? '10⁻²' : datum.value == 0.001 ? '10⁻³' : datum.value == 0.0001 ? '10⁻⁴' : ''", "labelFontSize": 11, "titleFontSize": 13, "labelPadding": 7, "titleX": -21, "tickSize": -3}},
                "color": {"field": "device", "type": "nominal", "scale": {"domain": ["Siemens", "VisualSonics", "Ultrasonix"], "range": ["#ee2a24", "#7674a6", "#66c5d6"]}},
                "strokeDash": {"field": "device", "type": "nominal", "scale": {"domain": ["Siemens", "VisualSonics", "Ultrasonix"], "range": [[5, 2.5], [1.5, 1.2], [1, 0]]}},
                "detail": {"field": "run"}
              }
            },
            {
              "data": {"values": [{"letter": "e)"}]},
              "mark": {"type": "text", "font": "Liberation Serif", "fontSize": 25, "align": "right", "baseline": "alphabetic", "color": "#000000"},
              "encoding": {"x": {"datum": -1.7, "type": "quantitative"}, "y": {"datum": 0.1, "type": "quantitative"}, "text": {"field": "letter"}}
            }
          ]
        },
        {
          "data": {"name": "bsc"},
          "transform": [{"filter": "datum.panel === 'e'"}],
          "mark": {"type": "point", "opacity": 0},
          "encoding": {
            "x": {"field": "freq", "type": "quantitative", "title": "MAT tumor - 12.39 mm³", "scale": {"domain": [0, 22], "nice": false, "zero": false}, "axis": {"orient": "top", "values": [0, 5, 10, 15, 20], "labels": false, "domain": false, "titleFontSize": 14, "titlePadding": 5}},
            "y": {"field": "bsc", "type": "quantitative", "title": null, "scale": {"type": "log", "domain": [0.00001, 0.1], "nice": false}, "axis": {"orient": "right", "values": [0.00002,0.00003,0.00004,0.00005,0.00006,0.00007,0.00008,0.00009,0.0001,0.0002,0.0003,0.0004,0.0005,0.0006,0.0007,0.0008,0.0009,0.001,0.002,0.003,0.004,0.005,0.006,0.007,0.008,0.009,0.01,0.02,0.03,0.04,0.05,0.06,0.07,0.08,0.09,0.1], "labels": false, "domain": false, "tickSize": -3}}
          }
        }
      ],
      "resolve": {"scale": {"x": "independent", "y": "independent"}}
    },
    {
      "width": 320, "height": 249,
      "layer": [
        {
          "layer": [
            {
              "data": {"name": "bsc"},
              "transform": [{"filter": "datum.panel === 'f'"}],
              "mark": {"type": "line"},
              "encoding": {
                "x": {"field": "freq", "type": "quantitative", "title": "Frequency (MHz)", "scale": {"domain": [0, 22], "nice": false, "zero": false}, "axis": {"orient": "bottom", "values": [0, 5, 10, 15, 20], "labelFontSize": 12, "titleFontSize": 14, "labelPadding": 8, "titlePadding": 3}},
                "y": {"field": "bsc", "type": "quantitative", "title": "BSC cm⁻¹Sr⁻¹", "scale": {"type": "log", "domain": [0.00001, 0.1], "nice": false}, "axis": {"orient": "left", "values": [0.00002,0.00003,0.00004,0.00005,0.00006,0.00007,0.00008,0.00009,0.0001,0.0002,0.0003,0.0004,0.0005,0.0006,0.0007,0.0008,0.0009,0.001,0.002,0.003,0.004,0.005,0.006,0.007,0.008,0.009,0.01,0.02,0.03,0.04,0.05,0.06,0.07,0.08,0.09,0.1], "labelExpr": "datum.value == 0.1 ? '10⁻¹' : datum.value == 0.01 ? '10⁻²' : datum.value == 0.001 ? '10⁻³' : datum.value == 0.0001 ? '10⁻⁴' : ''", "labelFontSize": 11, "titleFontSize": 13, "labelPadding": 7, "titleX": -21, "tickSize": -3}},
                "color": {"field": "device", "type": "nominal", "scale": {"domain": ["Siemens", "VisualSonics", "Ultrasonix"], "range": ["#ee2a24", "#7674a6", "#66c5d6"]}},
                "strokeDash": {"field": "device", "type": "nominal", "scale": {"domain": ["Siemens", "VisualSonics", "Ultrasonix"], "range": [[5, 2.5], [1.5, 1.2], [1, 0]]}},
                "detail": {"field": "run"}
              }
            },
            {
              "data": {"values": [{"letter": "f)"}]},
              "mark": {"type": "text", "font": "Liberation Serif", "fontSize": 25, "align": "right", "baseline": "alphabetic", "color": "#000000"},
              "encoding": {"x": {"datum": -1.6, "type": "quantitative"}, "y": {"datum": 0.1, "type": "quantitative"}, "text": {"field": "letter"}}
            }
          ]
        },
        {
          "data": {"name": "bsc"},
          "transform": [{"filter": "datum.panel === 'f'"}],
          "mark": {"type": "point", "opacity": 0},
          "encoding": {
            "x": {"field": "freq", "type": "quantitative", "title": "MAT tumor - 88\u00a0 mm³", "scale": {"domain": [0, 22], "nice": false, "zero": false}, "axis": {"orient": "top", "values": [0, 5, 10, 15, 20], "labels": false, "domain": false, "titleFontSize": 14, "titlePadding": 5}},
            "y": {"field": "bsc", "type": "quantitative", "title": null, "scale": {"type": "log", "domain": [0.00001, 0.1], "nice": false}, "axis": {"orient": "right", "values": [0.00002,0.00003,0.00004,0.00005,0.00006,0.00007,0.00008,0.00009,0.0001,0.0002,0.0003,0.0004,0.0005,0.0006,0.0007,0.0008,0.0009,0.001,0.002,0.003,0.004,0.005,0.006,0.007,0.008,0.009,0.01,0.02,0.03,0.04,0.05,0.06,0.07,0.08,0.09,0.1], "labels": false, "domain": false, "tickSize": -3}}
          }
        }
      ],
      "resolve": {"scale": {"x": "independent", "y": "independent"}}
    },
    {
      "width": 320, "height": 249,
      "layer": [
        {
          "layer": [
            {
              "data": {"name": "bsc"},
              "transform": [{"filter": "datum.panel === 'g'"}],
              "mark": {"type": "line"},
              "encoding": {
                "x": {"field": "freq", "type": "quantitative", "title": "Frequency (MHz)", "scale": {"domain": [0, 22], "nice": false, "zero": false}, "axis": {"orient": "bottom", "values": [0, 5, 10, 15, 20], "labelFontSize": 12, "titleFontSize": 14, "labelPadding": 8, "titlePadding": 3}},
                "y": {"field": "bsc", "type": "quantitative", "title": "BSC cm⁻¹Sr⁻¹", "scale": {"type": "log", "domain": [0.00001, 0.1], "nice": false}, "axis": {"orient": "left", "values": [0.00002,0.00003,0.00004,0.00005,0.00006,0.00007,0.00008,0.00009,0.0001,0.0002,0.0003,0.0004,0.0005,0.0006,0.0007,0.0008,0.0009,0.001,0.002,0.003,0.004,0.005,0.006,0.007,0.008,0.009,0.01,0.02,0.03,0.04,0.05,0.06,0.07,0.08,0.09,0.1], "labelExpr": "datum.value == 0.1 ? '10⁻¹' : datum.value == 0.01 ? '10⁻²' : datum.value == 0.001 ? '10⁻³' : datum.value == 0.0001 ? '10⁻⁴' : ''", "labelFontSize": 11, "titleFontSize": 13, "labelPadding": 7, "titleX": -21, "tickSize": -3}},
                "color": {"field": "device", "type": "nominal", "scale": {"domain": ["Siemens", "VisualSonics", "Ultrasonix"], "range": ["#ee2a24", "#7674a6", "#66c5d6"]}},
                "strokeDash": {"field": "device", "type": "nominal", "scale": {"domain": ["Siemens", "VisualSonics", "Ultrasonix"], "range": [[5, 2.5], [1.5, 1.2], [1, 0]]}},
                "detail": {"field": "run"}
              }
            },
            {
              "data": {"values": [{"letter": "g)"}]},
              "mark": {"type": "text", "font": "Liberation Serif", "fontSize": 25, "align": "right", "baseline": "alphabetic", "color": "#000000"},
              "encoding": {"x": {"datum": -1.7, "type": "quantitative"}, "y": {"datum": 0.1, "type": "quantitative"}, "text": {"field": "letter"}}
            }
          ]
        },
        {
          "data": {"name": "bsc"},
          "transform": [{"filter": "datum.panel === 'g'"}],
          "mark": {"type": "point", "opacity": 0},
          "encoding": {
            "x": {"field": "freq", "type": "quantitative", "title": "MAT tumor - 133\u00a0 mm³", "scale": {"domain": [0, 22], "nice": false, "zero": false}, "axis": {"orient": "top", "values": [0, 5, 10, 15, 20], "labels": false, "domain": false, "titleFontSize": 14, "titlePadding": 5}},
            "y": {"field": "bsc", "type": "quantitative", "title": null, "scale": {"type": "log", "domain": [0.00001, 0.1], "nice": false}, "axis": {"orient": "right", "values": [0.00002,0.00003,0.00004,0.00005,0.00006,0.00007,0.00008,0.00009,0.0001,0.0002,0.0003,0.0004,0.0005,0.0006,0.0007,0.0008,0.0009,0.001,0.002,0.003,0.004,0.005,0.006,0.007,0.008,0.009,0.01,0.02,0.03,0.04,0.05,0.06,0.07,0.08,0.09,0.1], "labels": false, "domain": false, "tickSize": -3}}
          }
        }
      ],
      "resolve": {"scale": {"x": "independent", "y": "independent"}}
    },
    {
      "width": 320, "height": 249,
      "layer": [
        {
          "layer": [
            {
              "data": {"name": "bsc"},
              "transform": [{"filter": "datum.panel === 'h'"}],
              "mark": {"type": "line"},
              "encoding": {
                "x": {"field": "freq", "type": "quantitative", "title": "Frequency (MHz)", "scale": {"domain": [0, 22], "nice": false, "zero": false}, "axis": {"orient": "bottom", "values": [0, 5, 10, 15, 20], "labelFontSize": 12, "titleFontSize": 14, "labelPadding": 8, "titlePadding": 3}},
                "y": {"field": "bsc", "type": "quantitative", "title": "BSC cm⁻¹Sr⁻¹", "scale": {"type": "log", "domain": [0.00001, 0.1], "nice": false}, "axis": {"orient": "left", "values": [0.00002,0.00003,0.00004,0.00005,0.00006,0.00007,0.00008,0.00009,0.0001,0.0002,0.0003,0.0004,0.0005,0.0006,0.0007,0.0008,0.0009,0.001,0.002,0.003,0.004,0.005,0.006,0.007,0.008,0.009,0.01,0.02,0.03,0.04,0.05,0.06,0.07,0.08,0.09,0.1], "labelExpr": "datum.value == 0.1 ? '10⁻¹' : datum.value == 0.01 ? '10⁻²' : datum.value == 0.001 ? '10⁻³' : datum.value == 0.0001 ? '10⁻⁴' : ''", "labelFontSize": 11, "titleFontSize": 13, "labelPadding": 7, "titleX": -21, "tickSize": -3}},
                "color": {"field": "device", "type": "nominal", "scale": {"domain": ["Siemens", "VisualSonics", "Ultrasonix"], "range": ["#ee2a24", "#7674a6", "#66c5d6"]}},
                "strokeDash": {"field": "device", "type": "nominal", "scale": {"domain": ["Siemens", "VisualSonics", "Ultrasonix"], "range": [[5, 2.5], [1.5, 1.2], [1, 0]]}},
                "detail": {"field": "run"}
              }
            },
            {
              "data": {"values": [{"letter": "h)"}]},
              "mark": {"type": "text", "font": "Liberation Serif", "fontSize": 25, "align": "right", "baseline": "alphabetic", "color": "#000000"},
              "encoding": {"x": {"datum": -1.6, "type": "quantitative"}, "y": {"datum": 0.1, "type": "quantitative"}, "text": {"field": "letter"}}
            }
          ]
        },
        {
          "data": {"name": "bsc"},
          "transform": [{"filter": "datum.panel === 'h'"}],
          "mark": {"type": "point", "opacity": 0},
          "encoding": {
            "x": {"field": "freq", "type": "quantitative", "title": "MAT tumor - 587\u00a0 mm³", "scale": {"domain": [0, 22], "nice": false, "zero": false}, "axis": {"orient": "top", "values": [0, 5, 10, 15, 20], "labels": false, "domain": false, "titleFontSize": 14, "titlePadding": 5}},
            "y": {"field": "bsc", "type": "quantitative", "title": null, "scale": {"type": "log", "domain": [0.00001, 0.1], "nice": false}, "axis": {"orient": "right", "values": [0.00002,0.00003,0.00004,0.00005,0.00006,0.00007,0.00008,0.00009,0.0001,0.0002,0.0003,0.0004,0.0005,0.0006,0.0007,0.0008,0.0009,0.001,0.002,0.003,0.004,0.005,0.006,0.007,0.008,0.009,0.01,0.02,0.03,0.04,0.05,0.06,0.07,0.08,0.09,0.1], "labels": false, "domain": false, "tickSize": -3}}
          }
        }
      ],
      "resolve": {"scale": {"x": "independent", "y": "independent"}}
    }
  ]
}
